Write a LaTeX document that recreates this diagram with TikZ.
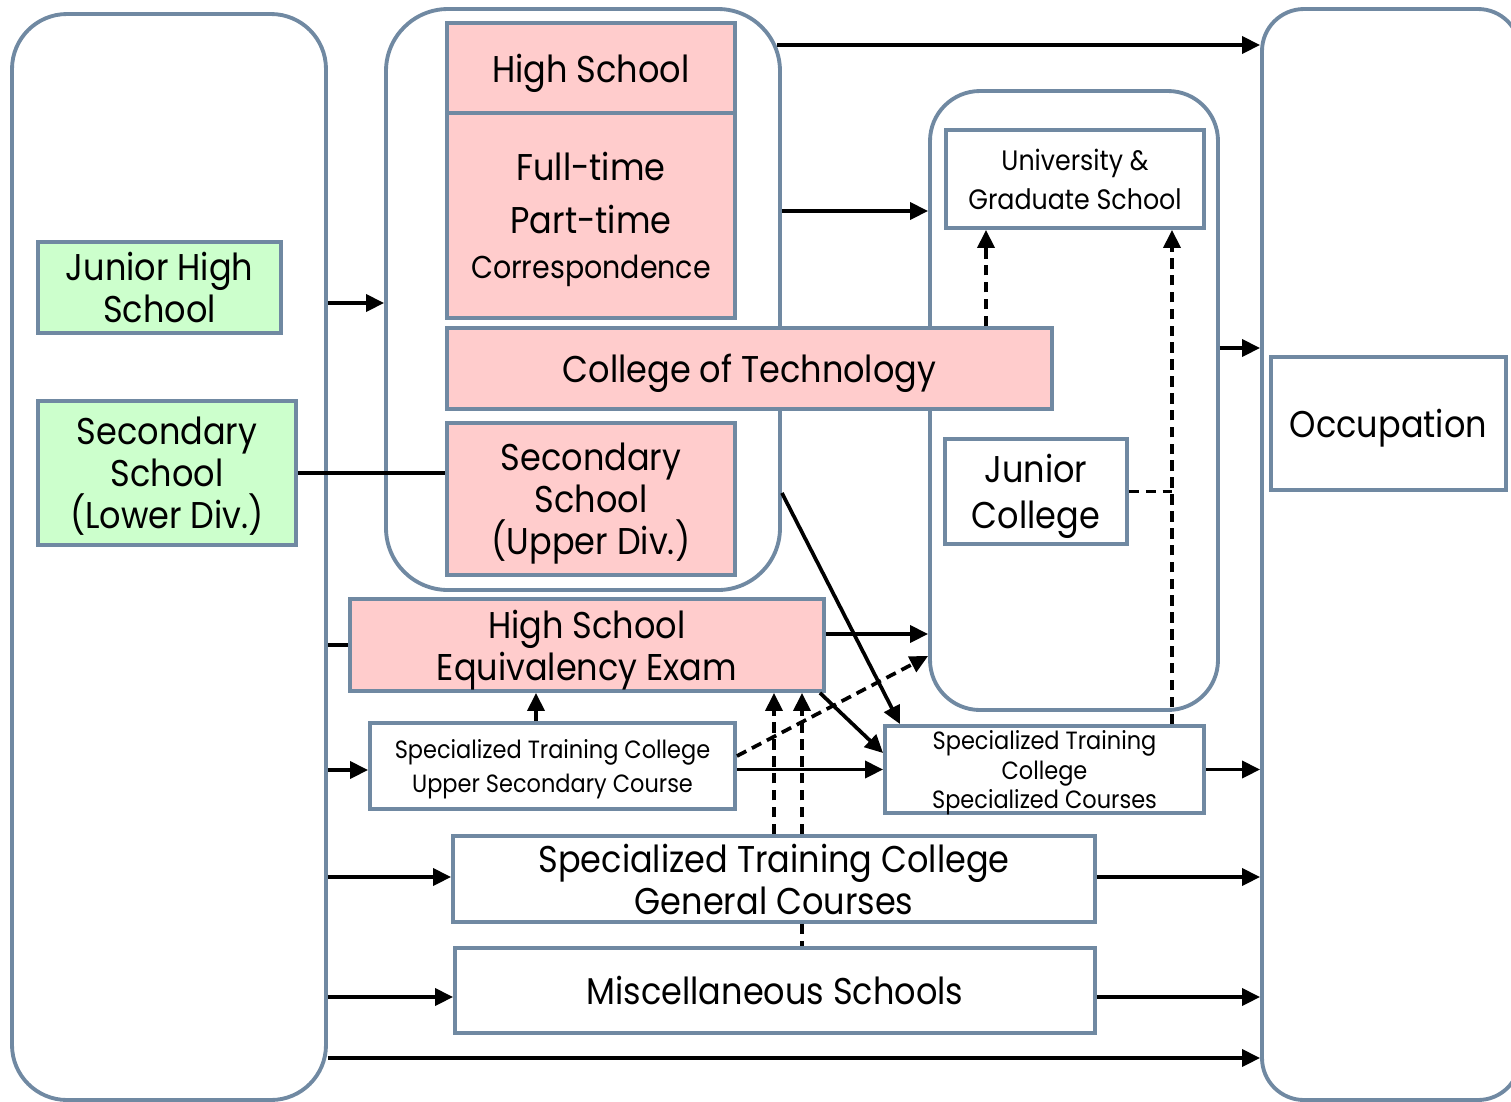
\documentclass[tikz,border=0pt]{standalone}
\usepackage{fontspec}
\setmainfont{Poppins}[FakeStretch=0.9]
\usepackage{tikz}
\usetikzlibrary{calc}
\usetikzlibrary{arrows.meta}
\usepackage{xcolor}

\definecolor{rim}{RGB}{112,137,162}
\definecolor{pinkfill}{RGB}{255,204,204}
\definecolor{mintfill}{RGB}{204,255,204}

\newcommand{\fsbig}{\fontsize{10.6}{12}\selectfont}
\newcommand{\fsmid}{\fontsize{9}{11}\selectfont}
\newcommand{\fsuniv}{\fontsize{8}{11}\selectfont}
\newcommand{\fssmall}{\fontsize{7.1}{9.4}\selectfont}

\begin{document}
\begin{tikzpicture}[x=0.1mm, y=-0.1mm, >={Triangle[length=1.8mm,width=1.7mm]},
  group/.style={draw=rim, line width=1.1pt, rounded corners=#1, inner sep=0pt},
  every box/.style={draw=rim, line width=1.1pt, inner sep=0pt, align=center, font=\fsbig, text depth=0pt},
  pinkbox/.style={every box, fill=pinkfill},
  greenbox/.style={every box, fill=mintfill},
  whitebox/.style={every box, fill=white},
  flow/.style={line width=1.05pt},
  dashflow/.style={line width=1.05pt, dash pattern=on 3pt off 1.8pt}]
\useasboundingbox (0,0) rectangle (1511,1101);
\clip (0,0) rectangle (1511,1101);

% ryhmät
\node[group=5.5mm, minimum width=31.4mm, minimum height=108.6mm] (leftgrp) at (169,557) {};
\node[group=6.2mm, minimum width=39.4mm, minimum height=58.1mm] (midgrp) at (583,299.5) {};
\node[group=5mm, minimum width=28.8mm, minimum height=61.9mm] (univgrp) at (1074,400.5) {};
\node[group=4.2mm, minimum width=25.8mm, minimum height=109.1mm] (occgrp) at (1391,554.5) {};

% koulut
\node[pinkbox, minimum width=28.8mm, minimum height=9mm] (hs) at (591,68) {High School};
\node[pinkbox, minimum width=28.8mm, minimum height=20.5mm] (hsmode) at (591,215.5)
  {Full-time\\[3pt]Part-time\\[1pt]{\fsmid Correspondence}};
\node[pinkbox, minimum width=60.5mm, minimum height=8.1mm] (cot) at (749.5,368.5) {College of Technology};
\node[pinkbox, minimum width=28.8mm, minimum height=15.2mm] (secup) at (591,499) {Secondary\\School\\(Upper Div.)};
\node[greenbox, minimum width=24.3mm, minimum height=9.1mm] (jhs) at (159.5,287.5) {Junior High\\School};
\node[greenbox, minimum width=25.8mm, minimum height=14.4mm] (seclow) at (167,473) {Secondary\\School\\(Lower Div.)};
\node[whitebox, minimum width=25.8mm, minimum height=9.8mm, font=\fsuniv] (univ) at (1075,179) {University \&\\Graduate School};
\node[whitebox, minimum width=18.2mm, minimum height=10.5mm] (jc) at (1036,491.5) {Junior\\[1pt]College};
\node[whitebox, minimum width=23.5mm, minimum height=13.3mm] (occ) at (1388.5,423.5) {Occupation};
\node[pinkbox, minimum width=47.4mm, minimum height=9.2mm] (hsee) at (587,645) {High School\\Equivalency Exam};
\node[whitebox, minimum width=36.5mm, minimum height=8.6mm, font=\fssmall] (stcup) at (552.5,766)
  {Specialized Training College\\Upper Secondary Course};
\node[whitebox, minimum width=31.9mm, minimum height=8.7mm, font=\fssmall] (stcspec) at (1044.5,769.5)
  {Specialized Training\\[-1pt]College\\[-1pt]Specialized Courses};
\node[whitebox, minimum width=64.2mm, minimum height=8.6mm] (stcgen) at (774,879) {Specialized Training College\\General Courses};
\node[whitebox, minimum width=64mm, minimum height=8.5mm] (misc) at (775,990.5) {Miscellaneous Schools};

% nuolet
\draw[->,flow] ($(midgrp.east |- 0,45)+(-5,0)$) -- (occgrp.west |- 0,45);
\draw[->,flow] (midgrp.east |- 0,211) -- (univgrp.west |- 0,211);
\draw[->,flow] (leftgrp.east |- 0,303) -- (midgrp.west |- 0,303);
\draw[flow] (seclow.east) -- (seclow.east -| secup.west);
\draw[->,flow] (univgrp.east |- 0,348) -- (occgrp.west |- 0,348);
\draw[->,dashflow] (cot.north -| 986,0) -- (univ.south -| 986,0);
\draw[->,dashflow] (stcspec.north -| 1172,0) -- (univ.south -| 1172,0);
\draw[dashflow] (jc.east) -- (jc.east -| 1172,0);
\draw[->,flow] (midgrp.east |- 0,493) -- (stcspec.north -| 900,0);
\draw[->,flow] (hsee.east |- 0,634) -- (univgrp.west |- 0,634);
\draw[flow] (leftgrp.east |- hsee.west) -- (hsee.west);
\draw[->,flow] (leftgrp.east |- 0,770) -- (stcup.west |- 0,770);
\draw[->,dashflow] (stcup.north -| 536,0) -- (hsee.south -| 536,0);
\draw[->,flow] (stcup.east |- stcspec) -- (stcspec.west);
\draw[->,dashflow] (stcup.east |- 0,756) -- (univgrp.west |- 0,656);
\draw[->,flow] (hsee.south -| 820,0) -- (stcspec.west |- 0,753);
\foreach \x in {774,802}
  \draw[->,dashflow] (stcgen.north -| \x,0) -- (hsee.south -| \x,0);
\draw[dashflow] (stcgen.south -| 802,0) -- (misc.north -| 802,0);
\draw[->,flow] (leftgrp.east |- 0,877) -- (stcgen.west |- 0,877);
\draw[->,flow] (stcgen.east |- 0,877) -- (occgrp.west |- 0,877);
\draw[->,flow] (leftgrp.east |- 0,997) -- (misc.west |- 0,997);
\draw[->,flow] (misc.east |- 0,997) -- (occgrp.west |- 0,997);
\draw[->,flow] (leftgrp.east |- 0,1058) -- (occgrp.west |- 0,1058);
\draw[->,flow] (stcspec.east) -- (occgrp.west |- stcspec);

\end{tikzpicture}
\end{document}
